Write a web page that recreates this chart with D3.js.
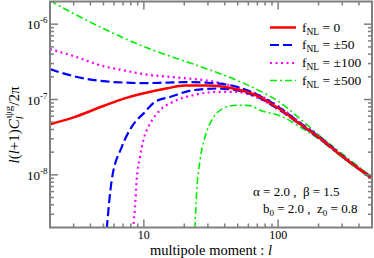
<!DOCTYPE html>
<html>
<head>
<meta charset="utf-8">
<script src="https://cdn.jsdelivr.net/npm/d3@7"></script>
<style>
  body { margin: 0; background: #fff; }
  text { font-family: "Liberation Serif", "DejaVu Serif", serif; fill: #000; }
</style>
</head>
<body>
<script>
var width = 374, height = 258;

// ---- data ----
var lRed = [2, 3, 5, 7, 10, 15, 20, 30, 50, 70, 100, 150, 200, 300, 500];
var cRed = [4.7e-8, 5.8e-8, 8.2e-8, 1.02e-7, 1.21e-7, 1.41e-7, 1.53e-7, 1.54e-7, 1.36e-7, 1.12e-7, 7.7e-8, 4.56e-8, 3.16e-8, 1.76e-8, 9.0e-9];

var lBlueUp = [2, 3, 5, 7, 10, 15, 20, 30, 50, 70, 100, 150, 200, 300, 500];
var cBlueUp = [2.53e-7, 2.04e-7, 1.75e-7, 1.68e-7, 1.65e-7, 1.68e-7, 1.70e-7, 1.67e-7, 1.46e-7, 1.16e-7, 8.0e-8, 4.7e-8, 3.25e-8, 1.8e-8, 9.1e-9];
var lBlueLo = [5.29, 5.76, 6.84, 8.12, 10.2, 12.1, 15.65, 23.2, 35, 52, 70, 100, 150, 200, 300, 500];
var cBlueLo = [1.9e-9, 8.45e-9, 2.34e-8, 4.33e-8, 6.85e-8, 9.31e-8, 1.08e-7, 1.33e-7, 1.40e-7, 1.30e-7, 1.08e-7, 7.5e-8, 4.5e-8, 3.1e-8, 1.75e-8, 8.9e-9];

var lMagUp = [2, 3, 5, 7, 10, 15, 20, 30, 50, 70, 100, 150, 200, 300, 500];
var cMagUp = [4.67e-7, 3.77e-7, 2.77e-7, 2.45e-7, 2.17e-7, 2.01e-7, 1.92e-7, 1.78e-7, 1.45e-7, 1.18e-7, 8.2e-8, 4.8e-8, 3.3e-8, 1.82e-8, 9.2e-9];
var lMagLo = [8.3, 8.59, 8.84, 9.36, 9.91, 10.79, 11.75, 13.18, 16.48, 23.2, 35, 49.3, 70, 100, 150, 200, 300, 500];
var cMagLo = [1.9e-9, 3.73e-9, 8.45e-9, 1.73e-8, 2.88e-8, 4.33e-8, 5.6e-8, 7.22e-8, 9.31e-8, 1.14e-7, 1.26e-7, 1.26e-7, 1.06e-7, 7.4e-8, 4.45e-8, 3.1e-8, 1.74e-8, 8.9e-9];

var lGrnUp = [2, 3, 5, 10, 20, 30, 50, 70, 100, 150, 200, 300, 500];
var cGrnUp = [2.05e-6, 1.38e-6, 8.75e-7, 5.04e-7, 3.24e-7, 2.53e-7, 1.78e-7, 1.35e-7, 9.5e-8, 5.3e-8, 3.4e-8, 1.9e-8, 9.4e-9];
var lGrnLo = [24.0, 24.7, 26.2, 28.5, 32.0, 39.0, 49.1, 61.7, 73.3, 108.7, 145, 200, 300, 500];
var cGrnLo = [1.9e-9, 5.68e-9, 1.56e-8, 3.18e-8, 5.31e-8, 7.6e-8, 8.41e-8, 8.3e-8, 7.22e-8, 5.87e-8, 4.33e-8, 3.0e-8, 1.7e-8, 8.7e-9];

var legendLabels = ["0", "\u00b150", "\u00b1100", "\u00b1500"];
var xMajor = [10, 100];
var yMajor = [1e-6, 1e-7, 1e-8];
var yMajorExp = ["-6", "-7", "-8"];

var series = [
  {name: 0, color: "#ff0000", dash: null, w: 2.5, l: lRed, c: cRed},
  {name: 1, color: "#0000ff", dash: "9,4", w: 2.2, l: lBlueUp, c: cBlueUp},
  {name: 1, color: "#0000ff", dash: "9,4", w: 2.2, l: lBlueLo, c: cBlueLo},
  {name: 2, color: "#ff00ff", dash: "2,3.5", w: 2.2, l: lMagUp, c: cMagUp},
  {name: 2, color: "#ff00ff", dash: "2,3.5", w: 2.2, l: lMagLo, c: cMagLo},
  {name: 3, color: "#00ee00", dash: "7,3,2,3", w: 1.6, l: lGrnUp, c: cGrnUp},
  {name: 3, color: "#00ee00", dash: "7,3,2,3", w: 1.6, l: lGrnLo, c: cGrnLo}
];

// ---- layout ----
var pL = 50, pR = 372, pT = 1.5, pB = 227.5;

var svg = d3.select("body").append("svg")
    .attr("width", width)
    .attr("height", height);

var x = d3.scaleLog().domain([2, 500]).range([pL, pR]);
var y = d3.scaleLog().domain([2e-9, 2e-6]).range([pB, pT]);

svg.append("defs").append("clipPath").attr("id", "clip")
  .append("rect").attr("x", pL).attr("y", pT)
  .attr("width", pR - pL).attr("height", pB - pT);

// curves, drawn back to front
var line = d3.line()
    .x(function(d){ return x(d[0]); })
    .y(function(d){ return y(d[1]); })
    .curve(d3.curveMonotoneX);

var plot = svg.append("g").attr("clip-path", "url(#clip)");
series.slice().reverse().forEach(function(s){
  plot.append("path")
    .datum(d3.zip(s.l, s.c))
    .attr("d", line)
    .attr("fill", "none")
    .attr("stroke", s.color)
    .attr("stroke-width", s.w)
    .attr("stroke-dasharray", s.dash);
});

// ticks (inward, on all four sides)
var axisColor = "#7f7f7f";
var xMinor = [];
[1, 10, 100].forEach(function(dec){
  for (var k = 2; k <= 9; k++) { var v = k * dec; if (v > 2 && v < 500 && v != 10 && v != 100) xMinor.push(v); }
});
var yMinor = [];
[1e-9, 1e-8, 1e-7, 1e-6].forEach(function(dec){
  for (var k = 2; k <= 9; k++) { var v = k * dec; if (v > 2.01e-9 && v < 1.99e-6) yMinor.push(v); }
});

var ticks = svg.append("g").attr("stroke", axisColor).attr("stroke-width", 1.5);
function xTick(v, len){
  ticks.append("line").attr("x1", x(v)).attr("x2", x(v)).attr("y1", pB).attr("y2", pB - len);
  ticks.append("line").attr("x1", x(v)).attr("x2", x(v)).attr("y1", pT).attr("y2", pT + len);
}
function yTick(v, len){
  ticks.append("line").attr("y1", y(v)).attr("y2", y(v)).attr("x1", pL).attr("x2", pL + len);
  ticks.append("line").attr("y1", y(v)).attr("y2", y(v)).attr("x1", pR).attr("x2", pR - len);
}
xMinor.forEach(function(v){ xTick(v, 4); });
xMajor.forEach(function(v){ xTick(v, 8); });
yMinor.forEach(function(v){ yTick(v, 4); });
yMajor.forEach(function(v){ yTick(v, 8); });

// frame
svg.append("rect")
  .attr("x", pL).attr("y", pT)
  .attr("width", pR - pL).attr("height", pB - pT)
  .attr("fill", "none").attr("stroke", axisColor).attr("stroke-width", 2);

// tick labels
svg.selectAll(".xlab").data(xMajor).enter().append("text")
  .attr("class", "xlab")
  .attr("x", function(d){ return x(d); })
  .attr("y", 239)
  .attr("text-anchor", "middle")
  .attr("font-size", 12)
  .text(function(d){ return d; });

var ylab = svg.selectAll(".ylab").data(yMajor).enter().append("text")
  .attr("class", "ylab")
  .attr("x", 27)
  .attr("y", function(d){ return y(d) + 5; })
  .attr("font-size", 13);
ylab.append("tspan").text("10");
ylab.append("tspan").attr("dy", -6).attr("font-size", 9)
  .text(function(d, i){ return yMajorExp[i]; });

// axis titles
svg.append("text")
  .attr("x", (pL + pR) / 2).attr("y", 255)
  .attr("text-anchor", "middle")
  .attr("font-size", 14.5)
  .html('multipole moment : <tspan font-style="italic">l</tspan>');

var yt = svg.append("text")
  .attr("transform", "translate(19,125) rotate(-90)")
  .attr("text-anchor", "middle")
  .attr("font-size", 15);
yt.append("tspan").attr("font-style", "italic").text("l");
yt.append("tspan").text("(");
yt.append("tspan").attr("font-style", "italic").text("l");
yt.append("tspan").text("+1)");
yt.append("tspan").attr("font-style", "italic").text("C");
yt.append("tspan").attr("font-style", "italic").attr("font-size", 11).attr("dy", 4).text("l");
yt.append("tspan").attr("font-size", 11).attr("dy", -11).attr("dx", -2).text("\u03c8g");
yt.append("tspan").attr("dy", 7).text("/2\u03c0");

// legend
var legY = [27.5, 45, 63, 80.5];
var leg = svg.append("g");
[0, 1, 2, 3].forEach(function(i){
  var s = series.filter(function(d){ return d.name === i; })[0];
  leg.append("line")
    .attr("x1", 270).attr("x2", 296)
    .attr("y1", legY[i]).attr("y2", legY[i])
    .attr("stroke", s.color).attr("stroke-width", s.w)
    .attr("stroke-dasharray", s.dash);
  var t = leg.append("text").attr("x", 302).attr("y", legY[i] + 4).attr("font-size", 13.5);
  t.append("tspan").text("f");
  t.append("tspan").attr("font-size", 9.5).attr("dy", 3).text("NL");
  t.append("tspan").attr("dy", -3).text(" = " + legendLabels[i]);
});

// parameter notes
var n1 = svg.append("text").attr("x", 253).attr("y", 196).attr("font-size", 13).attr("xml:space", "preserve");
n1.text("\u03b1 = 2.0 ,  \u03b2 = 1.5");
var n2 = svg.append("text").attr("x", 263).attr("y", 213).attr("font-size", 13).attr("xml:space", "preserve");
n2.append("tspan").text("b");
n2.append("tspan").attr("font-size", 9).attr("dy", 3).text("0");
n2.append("tspan").attr("dy", -3).text(" = 2.0 ,  z");
n2.append("tspan").attr("font-size", 9).attr("dy", 3).text("0");
n2.append("tspan").attr("dy", -3).text(" = 0.8");
</script>
</body>
</html>
